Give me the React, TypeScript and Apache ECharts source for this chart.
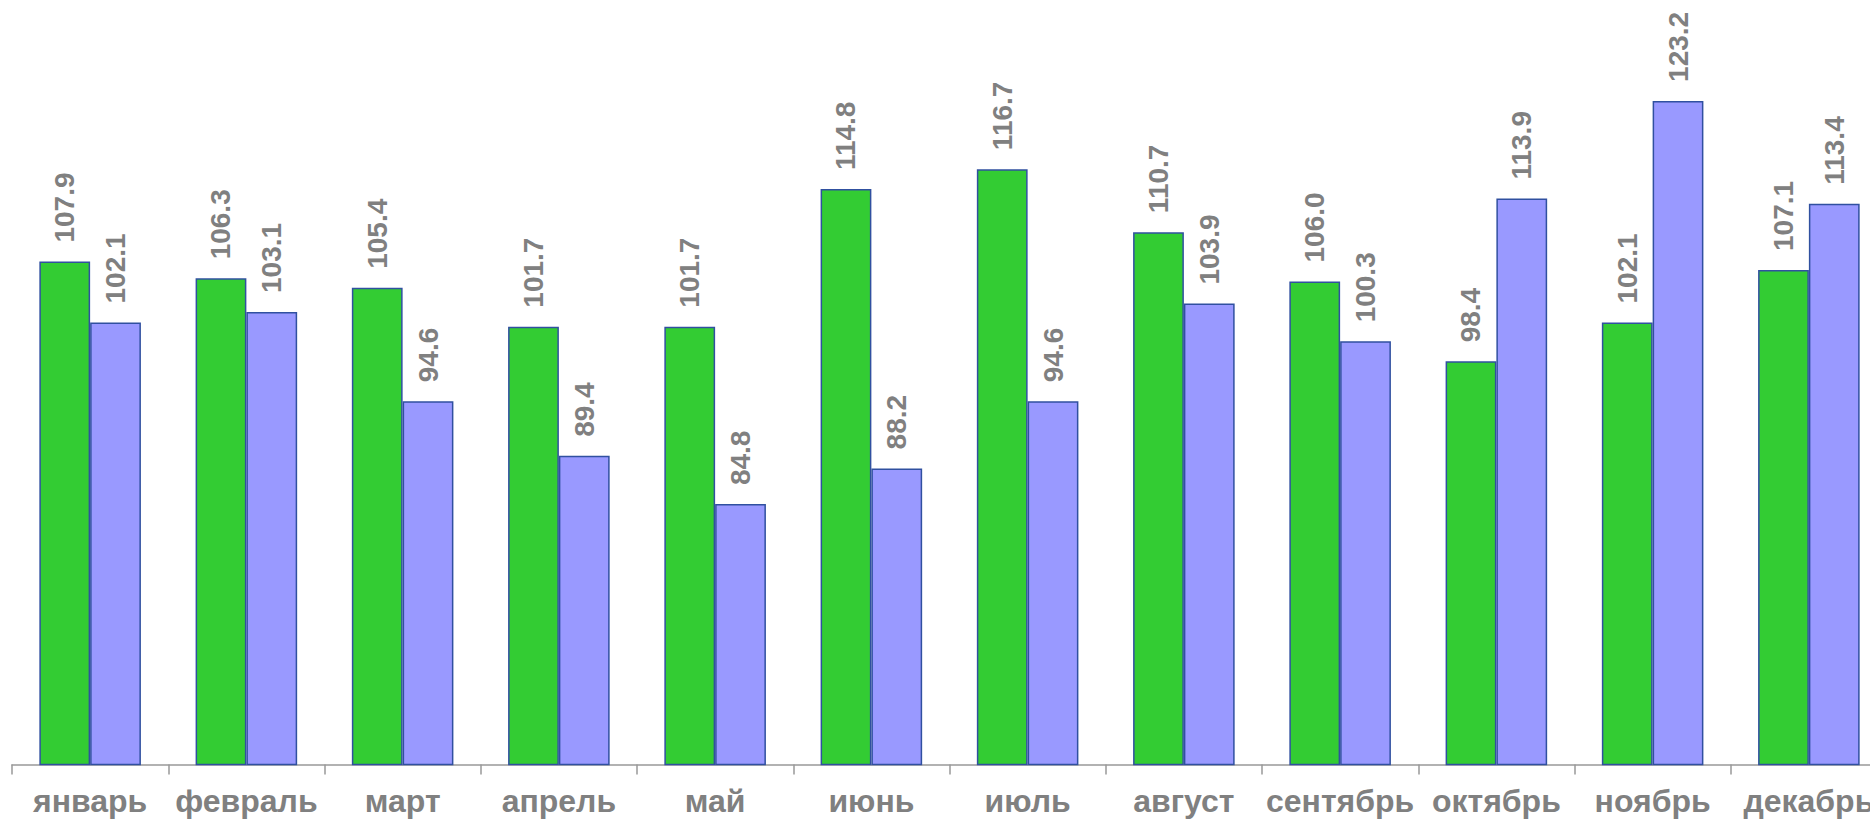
import React, { useEffect, useRef } from "react";
import * as echarts from "echarts";

const categories = ["январь", "февраль", "март", "апрель", "май", "июнь", "июль", "август", "сентябрь", "октябрь", "ноябрь", "декабрь"];
const seriesA = [107.9, 106.3, 105.4, 101.7, 101.7, 114.8, 116.7, 110.7, 106.0, 98.4, 102.1, 107.1];
const seriesB = [102.1, 103.1, 94.6, 89.4, 84.8, 88.2, 94.6, 103.9, 100.3, 113.9, 123.2, 113.4];

export default function App() {
  const ref = useRef<HTMLDivElement>(null);
  useEffect(() => {
    if (!ref.current) return;
    const chart = echarts.init(ref.current, undefined, { renderer: "svg" });
    const label = {
      show: true,
      position: "top",
      rotate: 90,
      align: "left",
      verticalAlign: "middle",
      distance: 19,
      color: "#808080",
      fontWeight: "bold",
      fontSize: 28,
      fontFamily: "Liberation Sans, Arial, sans-serif",
      formatter: (p: any) => Number(p.value).toFixed(1),
    };
    chart.setOption({
      animation: false,
      grid: { left: 12, width: 1875, top: 29.5, bottom: 57.5, containLabel: false },
      xAxis: {
        type: "category",
        data: categories,
        axisLine: { lineStyle: { color: "#999999", width: 1.5 } },
        axisTick: { show: true, length: 10, lineStyle: { color: "#999999", width: 1.5 } },
        axisLabel: {
          color: "#808080",
          fontWeight: "bold",
          fontSize: 32,
          fontFamily: "Liberation Sans, Arial, sans-serif",
          margin: 20,
          interval: 0,
        },
      },
      yAxis: {
        type: "value",
        min: 60,
        max: 130,
        show: false,
        splitLine: { show: false },
      },
      series: [
        {
          type: "bar",
          data: seriesA,
          barGap: "0%",
          barCategoryGap: "35%",
          itemStyle: { color: "#33cc33", borderColor: "#3050a0", borderWidth: 1.5 },
          label,
        },
        {
          type: "bar",
          data: seriesB,
          barGap: "0%",
          barCategoryGap: "35%",
          itemStyle: { color: "#9999ff", borderColor: "#3050a0", borderWidth: 1.5 },
          label,
        },
      ],
    });
    return () => chart.dispose();
  }, []);
  return (
    <div style={{ position: "fixed", left: 0, top: 0, width: 1870, height: 822, overflow: "hidden", background: "#fff" }}>
      <div ref={ref} style={{ width: 1900, height: 822 }} />
    </div>
  );
}
